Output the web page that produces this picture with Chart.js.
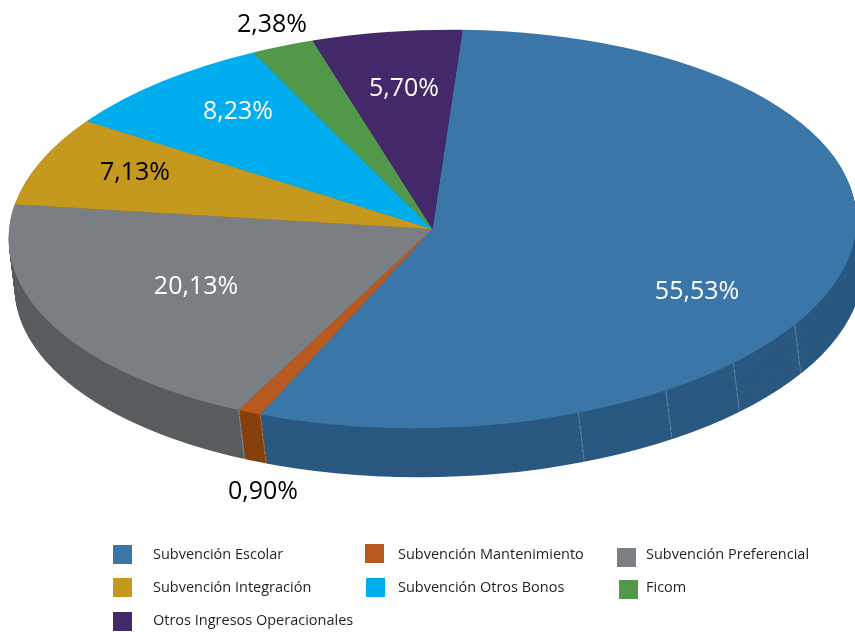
<!DOCTYPE html>
<html>
<head>
<meta charset="utf-8">
<style>
  html, body { margin: 0; padding: 0; background: white; }
  canvas { display: block; }
</style>
<script src="https://cdn.jsdelivr.net/npm/chart.js@4"></script>
</head>
<body>
<canvas id="canvas" width="855" height="632"></canvas>
<script>
// Chart data
const categories = ['Subvención Escolar', 'Subvención Mantenimiento', 'Subvención Preferencial',
    'Subvención Integración', 'Subvención Otros Bonos', 'Ficom', 'Otros Ingresos Operacionales'];
const values = [55.53, 0.90, 20.13, 7.13, 8.23, 2.38, 5.70];
const valueLabels = ['55,53%', '0,90%', '20,13%', '7,13%', '8,23%', '2,38%', '5,70%'];
const topColors = ['#3b76a9', '#b85a1f', '#7b7e82', '#c5981e', '#00aeef', '#52984a', '#43296a'];
const sideColors = ['#2a5880', '#86400c', '#5a5d5f', '#8f6f16', '#0080b0', '#3b6f36', '#2f1d4b'];
const labelColors = ['white', 'black', 'white', 'black', 'white', 'black', 'white'];

// Where the texts go
const labelPos = [[697, 292], [263, 492], [196, 287], [135, 173], [238, 112], [272, 25], [404, 89]];
const legendBoxes = [[113, 545], [365, 544], [617, 548], [113, 578], [366, 578], [619, 580], [113, 612]];
const legendTexts = [[153, 559], [398, 559], [646, 559], [153, 592], [398, 592], [646, 592], [153, 625]];

// The pie is drawn round, then stretched sideways and tilted a little,
// with a darker copy below it as the wall
const stretchX = 424 / 199;
const tilt = -0.027;
const depthY = 49;
const depthX = 6;
const seamAngles = [160.6, 147.3, 135.5, 122];

function ghostArc(arc, color) {
    const ghost = Object.create(arc);
    ghost.options = {
        backgroundColor: color, borderColor: color, borderWidth: 0, borderRadius: 0,
        borderAlign: 'center', borderJoinStyle: 'round', spacing: 0, offset: 0, circular: true
    };
    return ghost;
}

function ellipseTransform(ctx, info) {
    ctx.translate(info.x, info.y);
    ctx.rotate(tilt);
    ctx.scale(stretchX, 1);
    ctx.translate(-info.x, -info.y);
}

function drawSeam(ctx, info, angle) {
    const ex = Math.cos(angle) * info.r * stretchX;
    const ey = Math.sin(angle) * info.r;
    const x = info.x + ex * Math.cos(tilt) - ey * Math.sin(tilt);
    const y = info.y + ex * Math.sin(tilt) + ey * Math.cos(tilt);
    ctx.beginPath();
    ctx.moveTo(x, y);
    ctx.lineTo(x + depthX, y + depthY);
    ctx.stroke();
}

const pie3d = {
    id: 'pie3d',
    beforeDatasetsDraw(chart) {
        const ctx = chart.ctx;
        const arcs = chart.getDatasetMeta(0).data;
        const info = { x: arcs[0].x, y: arcs[0].y, r: arcs[0].outerRadius };
        const ghosts = arcs.map((arc, i) => ghostArc(arc, sideColors[i]));

        // Wall: stack of dark copies, deepest first
        for (let d = depthY; d >= 1; d--) {
            ctx.save();
            ctx.translate(depthX * d / depthY, d);
            ellipseTransform(ctx, info);
            ghosts.forEach(g => g.draw(ctx));
            ctx.restore();
        }

        // Thin seams on the wall
        ctx.save();
        ctx.strokeStyle = 'rgba(255,255,255,0.28)';
        ctx.lineWidth = 1;
        ctx.setLineDash([5, 1]);
        seamAngles.forEach(a => drawSeam(ctx, info, (a - 90) * Math.PI / 180));
        drawSeam(ctx, info, arcs[0].endAngle);
        drawSeam(ctx, info, arcs[1].endAngle);
        ctx.restore();

        // Top face, undone in afterDatasetsDraw
        ctx.save();
        ellipseTransform(ctx, info);
    },
    afterDatasetsDraw(chart) {
        chart.ctx.restore();
    },
    afterDraw(chart) {
        const ctx = chart.ctx;
        ctx.save();
        ctx.textAlign = 'center';
        ctx.textBaseline = 'middle';
        ctx.font = '25px "Open Sans"';
        valueLabels.forEach((t, i) => {
            ctx.fillStyle = labelColors[i];
            ctx.fillText(t, labelPos[i][0], labelPos[i][1]);
        });

        // Legend
        ctx.textAlign = 'left';
        ctx.textBaseline = 'alphabetic';
        ctx.font = '14.5px "Open Sans"';
        categories.forEach((c, i) => {
            ctx.fillStyle = topColors[i];
            ctx.fillRect(legendBoxes[i][0], legendBoxes[i][1], 19, 19);
            ctx.fillStyle = '#231f20';
            ctx.fillText(c, legendTexts[i][0], legendTexts[i][1]);
        });
        ctx.restore();
    }
};

var chart = new Chart(document.getElementById('canvas').getContext('2d'), {
    type: 'pie',
    data: {
        labels: categories,
        datasets: [{
            data: values,
            backgroundColor: topColors,
            borderWidth: 0,
            clip: false
        }]
    },
    options: {
        responsive: false,
        animation: false,
        rotation: 4.8,
        layout: { padding: { top: 30, bottom: 204, left: 11, right: 1 } },
        plugins: { legend: { display: false }, tooltip: { enabled: false } }
    },
    plugins: [pie3d]
});
</script>
</body>
</html>
